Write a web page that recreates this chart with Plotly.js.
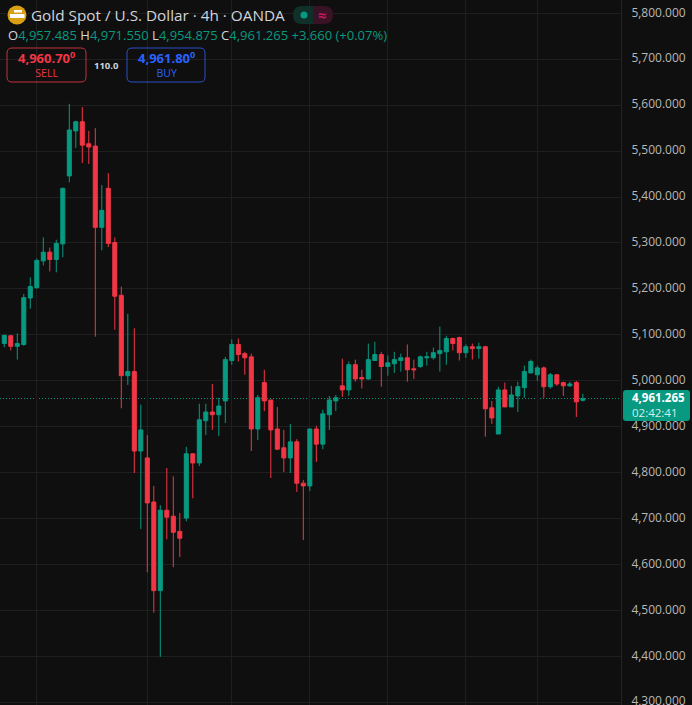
<!DOCTYPE html>
<html><head><meta charset="utf-8">
<script src="https://cdn.plot.ly/plotly-3.0.1.min.js"></script>
<style>html,body{margin:0;padding:0;background:#0f0f0f}#c{width:692px;height:705px}</style>
</head><body><div id="c"></div>
<script>
const opens=[5081,5098,5075,5079,5180,5203,5261,5280,5264,5298,5446,5544,5564,5516,5511,5334,5419,5301,5186,5011,5020,4847,4832,4736,4543,4718,4705,4672,4701,4841,4821,4913,4932,4926,4956,5044,5079,5059,5052,4895,4996,4958,4895,4854,4832,4867,4777,4771,4895,4862,4926,4956,4989,4980,5035,5007,5004,5044,5057,5031,5037,5044,5050,5026,5031,5050,5050,5059,5063,5092,5094,5061,5074,5070,5074,4941,4884,4980,4943,4967,4985,5017,5013,5028,4987,5013,4996,4989,4996,4957.485];
const highs=[5100,5099,5103,5189,5225,5266,5312,5290,5307,5420,5603,5566,5596,5544,5550,5426,5452,5312,5205,5146,5114,4948,4882,4771,4729,4810,4792,4712,4856,4841,4950,4950,4993,4963,5052,5090,5092,5063,5059,4969,5024,4958,4943,4893,4906,4873,4784,4895,4902,4937,4967,4969,5048,5042,5046,5024,5081,5085,5063,5055,5063,5059,5079,5046,5055,5063,5072,5118,5098,5094,5096,5079,5081,5083,5076,4956,4987,4996,4989,4998,5033,5046,5033,5031,5017,5015,4998,4998,5000,4971.55];
const lows=[5073,5066,5046,5076,5157,5200,5251,5238,5236,5269,5432,5507,5474,5472,5096,5284,5291,5111,4940,4991,4799,4677,4583,4495,4399,4655,4594,4616,4694,4744,4814,4882,4893,4880,4908,5035,5042,5013,4847,4871,4934,4788,4849,4801,4799,4758,4653,4760,4823,4851,4893,4934,4965,4967,4998,4983,5002,5044,4987,5011,5017,5020,4998,5004,5028,5033,5046,5020,5035,5066,5044,5050,5046,5048,4878,4906,4884,4943,4943,4932,4963,5017,5000,4963,4983,4989,4967,4987,4921,4954.875];
const closes=[5099,5075,5081,5181,5205,5262,5280,5264,5299,5419,5546,5564,5513,5509,5334,5371,5299,5184,5011,5020,4847,4893,4734,4543,4718,4703,4670,4657,4841,4821,4915,4932,4926,4945,5046,5079,5057,5050,4895,4963,4956,4893,4851,4832,4867,4777,4771,4895,4862,4928,4958,4963,4980,5035,5004,5004,5046,5057,5031,5039,5046,5050,5024,5024,5052,5052,5061,5066,5092,5081,5061,5074,5070,5074,4939,4919,4980,4943,4969,4987,5020,5042,5028,4987,5013,4993,4989,4993,4954,4961.265];
const bars=opens.map((_,i)=>i);
const dayLines=[5,22,35,47,59,71,82];
const priceTicks=[4300,4400,4500,4600,4700,4800,4900,5000,5100,5200,5300,5400,5500,5600,5700,5800];
const lastPrice=4961.265;

const UP='#089981',DOWN='#f23645',BG='#0f0f0f',GRID='#1f1f1f',BLUE='#2962ff',TXT='#d1d4dc';
const W=621,H=705;
const fx=p=>p/W, fy=p=>1-p/H;
const FONT='"Open Sans", sans-serif';
function ann(text,x,y,size,color,anchor,fam,align){return {text,x:fx(x),y:fy(y),xref:'paper',yref:'paper',xanchor:anchor||'left',yanchor:'middle',align:align||'center',showarrow:false,borderpad:0,font:{size,color,family:fam||FONT}};}
function rect(x0,y0,x1,y1,fill){return {type:'rect',xref:'paper',yref:'paper',x0:fx(x0),x1:fx(x1),y0:fy(y0),y1:fy(y1),fillcolor:fill,line:{width:0},layer:'above'};}
function round(x0,y0,x1,y1,r,fill,line,rr){
 rr=rr===undefined?r:rr;
 return {type:'path',xref:'paper',yref:'paper',xsizemode:'pixel',ysizemode:'pixel',xanchor:0,yanchor:1,
  path:`M${x0+r},${-y0} L${x1-rr},${-y0} Q${x1},${-y0} ${x1},${-(y0+rr)} L${x1},${-(y1-rr)} Q${x1},${-y1} ${x1-rr},${-y1} L${x0+r},${-y1} Q${x0},${-y1} ${x0},${-(y1-r)} L${x0},${-(y0+r)} Q${x0},${-y0} ${x0+r},${-y0} Z`,
  fillcolor:fill,line:{color:line||'rgba(0,0,0,0)',width:line?1:0},layer:'above'};}
function circ(cx,cy,r,fill){return {type:'circle',xref:'paper',yref:'paper',xsizemode:'pixel',ysizemode:'pixel',xanchor:fx(cx),yanchor:fy(cy),x0:-r,x1:r,y0:-r,y1:r,fillcolor:fill,line:{width:0},layer:'above'};}

const g=s=>`<span style="color:${UP}">${s}</span>`;
const big=s=>`<span style="font-size:13px"><b>${s}<sup>0</sup></b></span>`;
const shapes=[
 {type:'line',xref:'paper',yref:'y',x0:0,x1:1,y0:lastPrice,y1:lastPrice,line:{color:UP,width:1,dash:'1px,2px'},layer:'below'},
 circ(17,15,9.5,'#d9a013'),
 rect(14,10,22,12.5,'#fff'),rect(10,14,24.5,18,'#fff'),
 round(293,6,313,24,9,'#10302a',null,0),
 round(313,6,333,24,0,'#3a1225',null,9),
 circ(304,15,3.5,UP),
 round(7,48,86,82,5,'rgba(0,0,0,0)','#c0323c'),
 round(127,48,205,82,5,'rgba(0,0,0,0)','#2a50c8'),
 round(623,390,690,421,3,UP,null,3)
];
const annotations=[
 ann('Gold Spot / U.S. Dollar · 4h · OANDA',30,15,15.3,TXT),
 ann(`O${g('4,957.485')} H${g('4,971.550')} L${g('4,954.875')} C${g('4,961.265')} ${g('+3.660 (+0.07%)')}`,7,35,13,TXT),
 ann('<b>≈</b>',322,15,15,'#c2185b','center'),
 ann(`${big('4,960.70')}<br>SELL`,46.5,64,10.5,DOWN,'center'),
 ann('<b>110.0</b>',106,65,9.5,TXT,'center'),
 ann(`${big('4,961.80')}<br>BUY`,166,64,10.5,BLUE,'center'),
 ann('<b>4,961.265</b><br><span style="color:#d6efe9">02:42:41</span>',631,405,11.5,'#ffffff','left',null,'left')
];

Plotly.newPlot('c',[{
 type:'candlestick',x:bars,open:opens,high:highs,low:lows,close:closes,
 increasing:{line:{color:UP,width:1},fillcolor:UP},
 decreasing:{line:{color:DOWN,width:1},fillcolor:DOWN},
 whiskerwidth:0,hoverinfo:'none'
}],{
 width:692,height:705,margin:{l:0,r:71,t:0,b:0,pad:0},autosize:false,
 paper_bgcolor:BG,plot_bgcolor:BG,showlegend:false,boxgap:0.38,boxgroupgap:0,
 xaxis:{type:'linear',range:[-0.66,94.87],rangeslider:{visible:false},tickmode:'array',tickvals:dayLines,showticklabels:false,showgrid:true,gridcolor:GRID,gridwidth:1,zeroline:false,ticks:''},
 yaxis:{side:'right',range:[4294,5829],tickmode:'array',tickvals:priceTicks,tickformat:',.3f',ticklabeloverflow:'allow',ticklabelshift:-1,showgrid:true,gridcolor:GRID,gridwidth:1,zeroline:false,showline:true,linecolor:'#242424',linewidth:1,ticks:'outside',ticklen:7,tickcolor:BG,tickwidth:1,tickfont:{family:FONT,size:12,color:'#b8b8b8'}},
 shapes,annotations
},{staticPlot:true,displayModeBar:false});
</script></body></html>
